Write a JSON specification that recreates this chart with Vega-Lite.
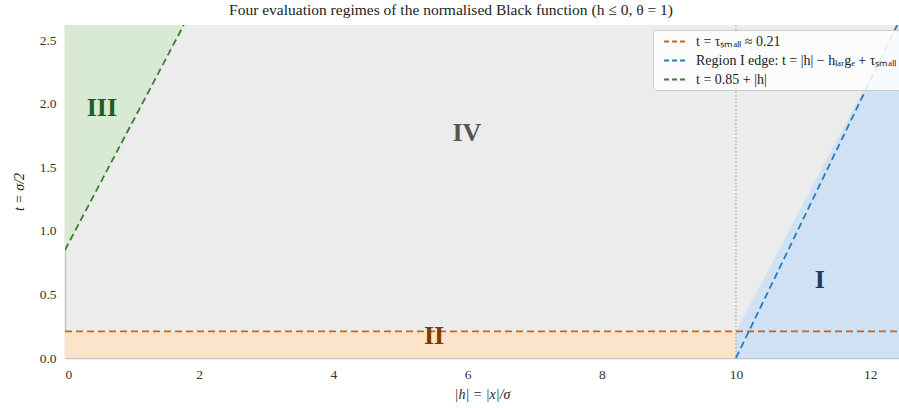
{
  "$schema": "https://vega.github.io/schema/vega-lite/v6.json",
  "width": 834,
  "height": 333,
  "autosize": {"type": "none"},
  "padding": {"left": 65, "top": 25, "right": 0, "bottom": 50},
  "background": "white",
  "config": {
    "view": {"fill": "#ececec", "stroke": null},
    "font": "Liberation Serif",
    "axis": {
      "grid": false,
      "ticks": false,
      "domainColor": "#c4c4c4",
      "domainWidth": 1.5,
      "zindex": 1,
      "labelPadding": 9,
      "titleFont": "Liberation Serif",
      "titleFontSize": 14,
      "titleFontWeight": "normal",
      "titleFontStyle": "italic",
      "titleColor": "#222222"
    },
    "legend": {
      "labelFont": "Liberation Serif",
      "labelFontSize": 14,
      "labelColor": "#222222",
      "labelLimit": 0
    }
  },
  "title": {
    "text": "Four evaluation regimes of the normalised Black function (h ≤ 0,  θ = 1)",
    "font": "Liberation Serif",
    "fontSize": 15.5,
    "fontWeight": "normal",
    "color": "#222222",
    "offset": 6,
    "dx": -31
  },
  "datasets": {
    "band": [{"x0": 0, "x1": 10, "t0": 0, "t1": 0.21}],
    "blue": [
      {"h": 10, "lo": 0, "hi": 0.21},
      {"h": 12.41, "lo": 0, "hi": 2.62},
      {"h": 12.43, "lo": 0, "hi": 2.62}
    ],
    "green": [
      {"h": 0, "lo": 0.85, "hi": 2.62},
      {"h": 1.77, "lo": 2.62, "hi": 2.62}
    ],
    "vline": [{"h": 10}],
    "lines": [
      {"series": "t = τₛₘₐₗₗ ≈ 0.21", "h": 0, "t": 0.21},
      {"series": "t = τₛₘₐₗₗ ≈ 0.21", "h": 12.43, "t": 0.21},
      {"series": "Region I edge: t = |h| − hₗₐᵣgₑ + τₛₘₐₗₗ", "h": 10, "t": 0},
      {"series": "Region I edge: t = |h| − hₗₐᵣgₑ + τₛₘₐₗₗ", "h": 12.43, "t": 2.65},
      {"series": "t = 0.85 + |h|", "h": 0, "t": 0.85},
      {"series": "t = 0.85 + |h|", "h": 1.77, "t": 2.62}
    ],
    "labels": [
      {"txt": "III", "h": 0.55, "t": 1.97, "c": "#1b5e20"},
      {"txt": "IV", "h": 5.99, "t": 1.77, "c": "#555555"},
      {"txt": "II", "h": 5.5, "t": 0.17, "c": "#7a3d00"},
      {"txt": "I", "h": 11.25, "t": 0.61, "c": "#1e3a5f"}
    ]
  },
  "layer": [
    {
      "data": {"name": "band"},
      "mark": {"type": "rect", "color": "#fce4cb", "clip": true},
      "encoding": {
        "x": {"field": "x0", "type": "quantitative", "scale": {"domain": [0, 12.43], "nice": false, "zero": false}, "axis": {"title": "|h| = |x|/σ", "values": [0, 2, 4, 6, 8, 10, 12], "format": "d", "titlePadding": 7, "labelFont": "Liberation Serif", "labelFontSize": 13.5, "labelColor": "#333333"}},
        "x2": {"field": "x1"},
        "y": {"field": "t0", "type": "quantitative", "scale": {"domain": [0, 2.62], "nice": false, "zero": false}, "axis": {"title": "t = σ/2", "values": [0, 0.5, 1, 1.5, 2, 2.5], "format": ".1f", "titlePadding": 13, "labelFont": "Liberation Serif", "labelFontSize": 13.5, "labelColor": "#333333"}},
        "y2": {"field": "t1"}
      }
    },
    {
      "data": {"name": "blue"},
      "mark": {"type": "area", "color": "#cfe1f2", "opacity": 1, "clip": true},
      "encoding": {
        "x": {"field": "h", "type": "quantitative"},
        "y": {"field": "lo", "type": "quantitative"},
        "y2": {"field": "hi"}
      }
    },
    {
      "data": {"name": "green"},
      "mark": {"type": "area", "color": "#d8ead3", "opacity": 1, "clip": true},
      "encoding": {
        "x": {"field": "h", "type": "quantitative"},
        "y": {"field": "lo", "type": "quantitative"},
        "y2": {"field": "hi"}
      }
    },
    {
      "data": {"name": "vline"},
      "mark": {"type": "rule", "color": "#999999", "strokeDash": [1.5, 2], "strokeWidth": 1},
      "encoding": {
        "x": {"field": "h", "type": "quantitative"}
      }
    },
    {
      "data": {"name": "lines"},
      "mark": {"type": "line", "strokeDash": [7, 4], "strokeWidth": 1.8, "clip": true},
      "encoding": {
        "x": {"field": "h", "type": "quantitative"},
        "y": {"field": "t", "type": "quantitative"},
        "color": {
          "field": "series",
          "type": "nominal",
          "scale": {
            "domain": ["t = τₛₘₐₗₗ ≈ 0.21", "Region I edge: t = |h| − hₗₐᵣgₑ + τₛₘₐₗₗ", "t = 0.85 + |h|"],
            "range": ["#c8641e", "#2a7bbd", "#3a7d33"]
          },
          "legend": {
            "title": null,
            "orient": "none",
            "legendX": 588,
            "legendY": 5,
            "symbolType": "M-1.45,0H1.45",
            "symbolDash": [5, 3],
            "symbolStrokeWidth": 1.8,
            "symbolSize": 210,
            "symbolOffset": 10,
            "labelFontSize": 14,
            "labelOffset": 13,
            "labelLimit": 400,
            "fillColor": "rgba(255,255,255,0.85)",
            "strokeColor": "#cccccc",
            "padding": 3,
            "rowPadding": 3,
            "cornerRadius": 2
          }
        }
      }
    },
    {
      "data": {"name": "labels"},
      "mark": {"type": "text", "font": "Liberation Serif", "fontSize": 26, "fontWeight": "bold", "align": "center", "baseline": "middle"},
      "encoding": {
        "x": {"field": "h", "type": "quantitative"},
        "y": {"field": "t", "type": "quantitative"},
        "text": {"field": "txt"},
        "color": {"field": "c", "type": "nominal", "scale": null}
      }
    }
  ]
}
